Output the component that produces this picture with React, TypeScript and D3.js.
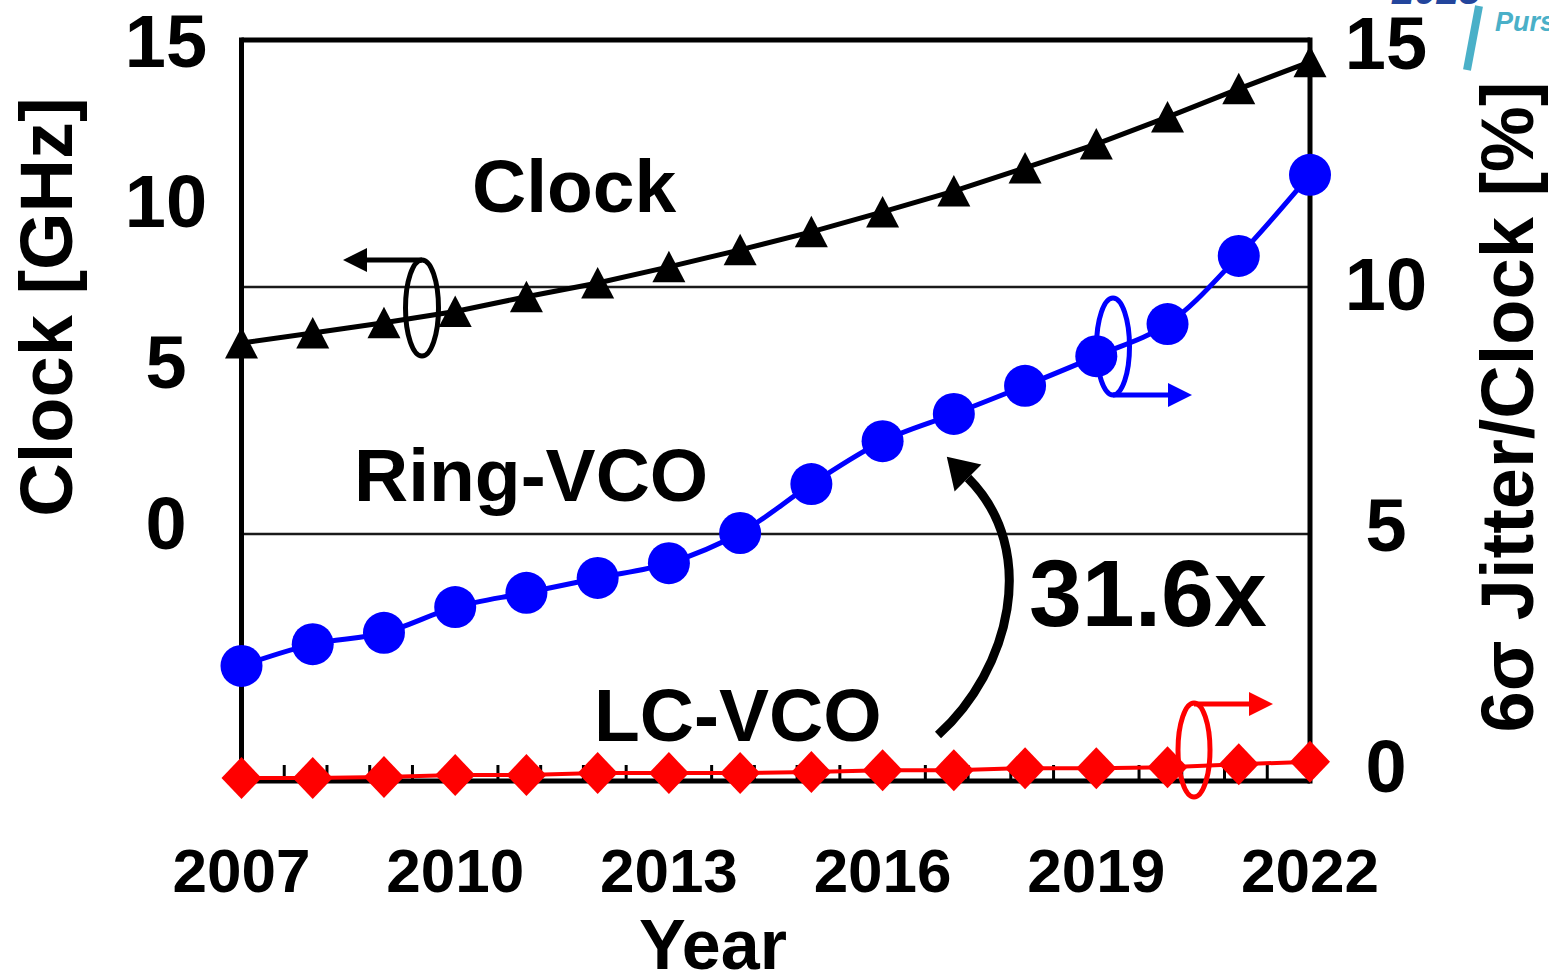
import React from 'react';
import * as d3 from 'd3';

// Year categories and the three series
const years = [2007, 2008, 2009, 2010, 2011, 2012, 2013, 2014, 2015, 2016, 2017, 2018, 2019, 2020, 2021, 2022];
// Clock frequency [GHz] (left axis)
const clockGHz = [5.57, 5.88, 6.2, 6.55, 7.01, 7.44, 7.94, 8.47, 9.03, 9.65, 10.3, 11.02, 11.76, 12.6, 13.48, 14.32];
// 6-sigma jitter / clock period [%] (right axis)
const ringVcoPct = [2.33, 2.77, 3.0, 3.52, 3.81, 4.11, 4.41, 5.02, 6.01, 6.88, 7.43, 8.0, 8.6, 9.25, 10.63, 12.27];
const lcVcoPct = [0.06, 0.06, 0.08, 0.12, 0.12, 0.16, 0.16, 0.16, 0.18, 0.22, 0.22, 0.26, 0.26, 0.28, 0.34, 0.388];

const yearTicks = [2007, 2010, 2013, 2016, 2019, 2022];
const leftTicks = [0, 5, 10, 15];
const rightTicks = [0, 5, 10, 15];
const rightGridValues = [5, 10];
const minorTickStep = 0.6;

const W = 1549;
const H = 973;
const FONT = "'Liberation Sans', Arial, Helvetica, sans-serif";

const BLUE = '#0000ff';
const RED = '#ff0000';

function triPath(cx: number, cy: number) {
  return `M${cx},${cy - 16}L${cx + 16.5},${cy + 15.5}L${cx - 16.5},${cy + 15.5}Z`;
}
function diamondPath(cx: number, cy: number) {
  return `M${cx},${cy - 21}L${cx + 20},${cy}L${cx},${cy + 21}L${cx - 20},${cy}Z`;
}

// Horizontal arrow: shaft from x0 to the tip at x1 (pointing toward x1)
function HArrow({ x0, x1, y, color }: { x0: number; x1: number; y: number; color: string }) {
  const dir = Math.sign(x1 - x0);
  const headLen = 24;
  const base = x1 - dir * headLen;
  return (
    <g>
      <line x1={x0} y1={y} x2={base + dir * 2} y2={y} stroke={color} strokeWidth={5} />
      <polygon points={`${x1},${y} ${base},${y - 12} ${base},${y + 12}`} fill={color} />
    </g>
  );
}

export default function App() {
  const x = d3.scaleLinear().domain([2007, 2022]).range([241.5, 1310]);
  const yL = d3.scaleLinear().domain([0, 15]).range([522, 40]);
  const yR = d3.scaleLinear().domain([0, 15]).range([781, 40]);
  // label placement scales for the two value axes
  const yLLabel = d3.scaleLinear().domain([0, 15]).range([522, 40]);
  const yRLabel = d3.scaleLinear().domain([0, 15]).range([765, 42]);

  const plotL = x(2007);
  const plotR = x(2022);
  const plotT = yR(15);
  const plotB = yR(0);

  const minorTicks = d3.range(0, Math.round((2022 - 2007) / minorTickStep) + 1).map((i) => 2007 + i * minorTickStep);

  const clockLine = d3
    .line<number>()
    .x((_, i) => x(years[i]))
    .y((d) => yL(d))(clockGHz) as string;
  const ringLine = d3
    .line<number>()
    .curve(d3.curveCatmullRom.alpha(0.5))
    .x((_, i) => x(years[i]))
    .y((d) => yR(d))(ringVcoPct) as string;
  const lcLine = d3
    .line<number>()
    .x((_, i) => x(years[i]))
    .y((d) => yR(d))(lcVcoPct) as string;

  const labelFs = 74;
  const noteFs = 75;

  return (
    <svg
      width={W}
      height={H}
      viewBox={`0 0 ${W} ${H}`}
      style={{ position: 'absolute', left: 0, top: 0, display: 'block', background: '#fff' }}
      fontFamily={FONT}
      fontWeight="bold"
    >
      <rect x={0} y={0} width={W} height={H} fill="#fff" />

      {/* gridlines (right axis) */}
      {rightGridValues.map((v) => (
        <line key={v} x1={plotL} x2={plotR} y1={yR(v)} y2={yR(v)} stroke="#1a1a1a" strokeWidth={2.6} />
      ))}

      {/* frame */}
      <line x1={plotL} x2={plotR} y1={plotT} y2={plotT} stroke="#000" strokeWidth={5} />
      <line x1={plotL} x2={plotR} y1={plotB} y2={plotB} stroke="#000" strokeWidth={5} />
      <line x1={plotL} x2={plotL} y1={plotT - 2.5} y2={plotB + 2.5} stroke="#000" strokeWidth={5} />
      <line x1={plotR} x2={plotR} y1={plotT - 2.5} y2={plotB + 2.5} stroke="#000" strokeWidth={5} />

      {/* x minor ticks */}
      {minorTicks.map((t, i) => (
        <line key={i} x1={x(t)} x2={x(t)} y1={plotB} y2={plotB - 16} stroke="#000" strokeWidth={3} />
      ))}

      {/* series lines */}
      <path d={clockLine} fill="none" stroke="#000" strokeWidth={5} />
      <path d={ringLine} fill="none" stroke={BLUE} strokeWidth={5} />
      <path d={lcLine} fill="none" stroke={RED} strokeWidth={4} />

      {/* axis-ownership ellipses with arrows */}
      <ellipse cx={422} cy={308} rx={16.5} ry={48} fill="none" stroke="#000" strokeWidth={5} />
      <HArrow x0={422} x1={343} y={260} color="#000" />
      <ellipse cx={1113} cy={346.5} rx={16.5} ry={48.5} fill="none" stroke={BLUE} strokeWidth={5} />
      <HArrow x0={1113} x1={1192} y={395} color={BLUE} />
      <ellipse cx={1194} cy={750} rx={16} ry={47} fill="none" stroke={RED} strokeWidth={5} />
      <HArrow x0={1194} x1={1273} y={704} color={RED} />

      {/* markers */}
      {lcVcoPct.map((v, i) => (
        <path key={`d${i}`} d={diamondPath(x(years[i]), yR(v))} fill={RED} />
      ))}
      {ringVcoPct.map((v, i) => (
        <circle key={`c${i}`} cx={x(years[i])} cy={yR(v)} r={21} fill={BLUE} />
      ))}
      {clockGHz.map((v, i) => (
        <path key={`t${i}`} d={triPath(x(years[i]), yL(v))} fill="#000" />
      ))}

      {/* improvement arrow */}
      <path d="M938,735 C1010,670 1040,550 968,478" fill="none" stroke="#000" strokeWidth={9} />
      <polygon points="946.8,456.8 981.4,464.6 954.6,491.4" fill="#000" />

      {/* annotations */}
      <text x={472} y={212} fontSize={noteFs} fill="#000">Clock</text>
      <text x={354} y={501} fontSize={noteFs} fill="#000">Ring-VCO</text>
      <text x={594} y={741} fontSize={noteFs} fill="#000">LC-VCO</text>
      <text x={1029} y={626} fontSize={95} fill="#000">31.6x</text>

      {/* left axis labels */}
      {leftTicks.map((v) => (
        <text key={v} x={166} y={yLLabel(v) + 0.36 * labelFs} fontSize={labelFs} textAnchor="middle" fill="#000">
          {v}
        </text>
      ))}
      {/* right axis labels */}
      {rightTicks.map((v) => (
        <text key={v} x={1386} y={yRLabel(v) + 0.36 * labelFs} fontSize={labelFs} textAnchor="middle" fill="#000">
          {v}
        </text>
      ))}
      {/* year labels */}
      {yearTicks.map((t) => (
        <text key={t} x={x(t)} y={892} fontSize={62} textAnchor="middle" fill="#000">
          {t}
        </text>
      ))}

      {/* axis titles */}
      <text x={713} y={969} fontSize={70} textAnchor="middle" fill="#000">Year</text>
      <text transform="translate(72,307) rotate(-90)" fontSize={74} textAnchor="middle" fill="#000">
        Clock [GHz]
      </text>
      <text transform="translate(1533,407) rotate(-90)" fontSize={74} textAnchor="middle" fill="#000">
        6σ Jitter/Clock [%]
      </text>

      {/* corner logo fragment */}
      <text x={1392} y={4} fontSize={40} fontStyle="italic" fill="#23459c">2023</text>
      <line x1={1479} y1={6} x2={1467} y2={70} stroke="#4ab0c8" strokeWidth={8} />
      <text x={1495} y={31} fontSize={27} fontStyle="italic" fill="#4ab0c8">Pursuing</text>
    </svg>
  );
}
